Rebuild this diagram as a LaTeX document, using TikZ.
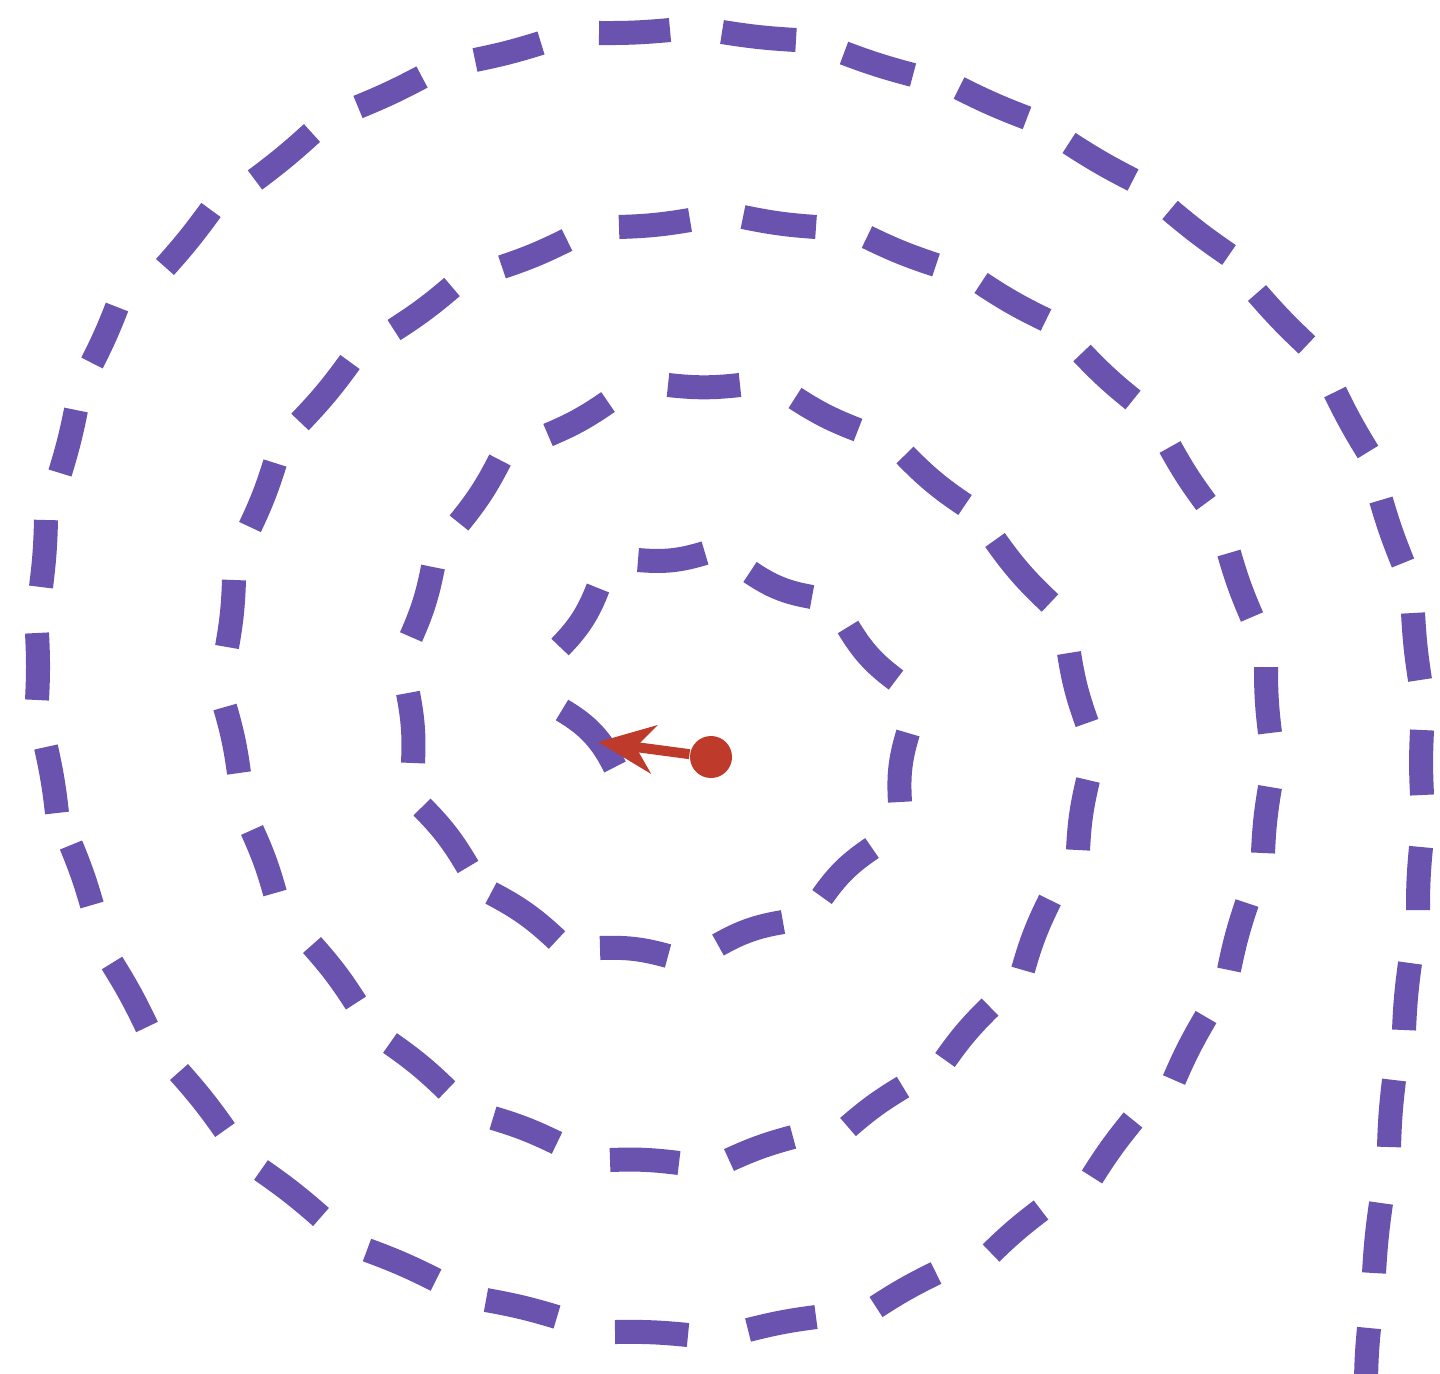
\documentclass[tikz,border=0pt]{standalone}
\usepackage{tikz}
\usetikzlibrary{arrows.meta,positioning}
\definecolor{spiralpurple}{RGB}{106,82,175}
\definecolor{startred}{RGB}{190,58,42}
\tikzset{
  dashbar/.style = {draw=spiralpurple, line width=2.4mm},
  pin/.style     = {circle, fill=startred, inner sep=0pt, minimum size=4.2mm},
  heading/.style = {-{Stealth[length=5.6mm, width=4.8mm, inset=1.8mm]}, line width=1mm,
                    draw=startred, fill=startred},
}
\begin{document}
\begin{tikzpicture}[x=0.01cm,y=-0.01cm]
  \useasboundingbox (0,0) rectangle (1440,1373);
  % the dashed spiral, one bar at a time, from the centre outwards;
  % each bar bends a little towards the middle (710,735)
  \foreach \xa/\ya/\xb/\yb in {
    615/767/562/710, 560/647/598/588, 638/560/705/553, 750/572/812/597,
    848/627/896/680, 908/733/900/802, 872/848/822/897, 783/922/718/945,
    668/956/600/948, 557/940/491/893, 468/867/422/807, 413/763/408/693,
    411/637/433/567, 459/523/500/460, 548/435/608/402, 668/385/740/385,
    795/398/858/430, 905/455/965/505, 995/540/1050/603, 1069/653/1087/723,
    1088/780/1078/850, 1050/900/1023/970, 990/1007/945/1060, 903/1087/848/1127,
    793/1137/729/1160, 679/1163/610/1160, 557/1143/493/1118, 447/1090/390/1043,
    356/1003/312/945, 275/893/252/830, 239/773/225/707, 227/647/234/580,
    250/527/275/463, 300/422/350/362, 394/330/452/287, 502/267/567/240,
    619/227/690/220, 743/217/816/227, 867/237/936/265, 981/283/1046/320,
    1082/353/1133/400, 1170/447/1206/503, 1229/553/1252/617, 1266/667/1270/733,
    1270/787/1263/853, 1247/903/1229/970, 1206/1017/1174/1080, 1133/1120/1092/1177,
    1041/1210/991/1253, 936/1273/876/1307, 816/1317/748/1330, 688/1335/615/1332,
    557/1317/486/1300, 436/1280/367/1250, 321/1217/261/1170, 225/1130/179/1072,
    147/1027/112/963, 92/905/71/845, 57/813/46/747, 37/700/37/633,
    41/587/46/520, 60/473/76/410, 92/363/117/307, 165/267/211/210,
    255/180/312/133, 358/107/422/77, 475/60/541/43, 599/33/670/30,
    722/32/796/40, 844/53/913/75, 959/88/1027/118, 1069/143/1133/180,
    1170/210/1229/255, 1257/293/1307/345, 1335/392/1368/452, 1381/500/1403/563,
    1413/613/1420/680, 1422/730/1422/795, 1421/847/1418/910, 1410/963/1404/1030,
    1394/1080/1389/1147, 1381/1203/1374/1273, 1369/1328/1366/1380}
  {
    \pgfmathsetmacro\bend{deg(35/veclen((\xa+\xb)/2-710,(\ya+\yb)/2-735))}
    \draw[dashbar] (\xa,\ya) to[bend right=\bend] (\xb,\yb);
  }
  % start point and heading
  \node[pin] (start) at (711,757) {};
  \coordinate (tip) at (598,742);
  \draw[heading] (start) -- (tip);
\end{tikzpicture}
\end{document}
